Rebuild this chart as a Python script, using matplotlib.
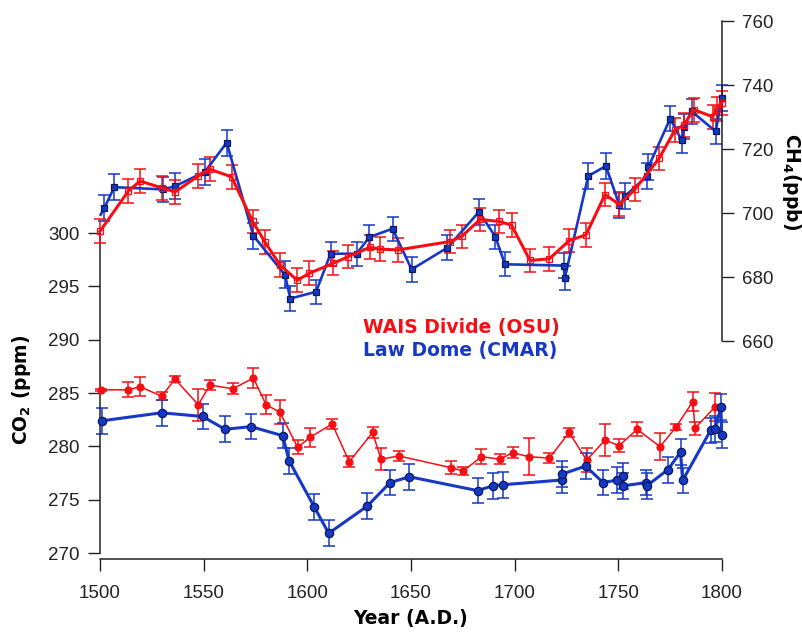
import matplotlib
matplotlib.use("Agg")
import matplotlib.pyplot as plt

plt.rcParams["font.family"] = ["Liberation Sans", "DejaVu Sans"]
plt.rcParams["mathtext.default"] = "bf"

RED = "#f50f14"
BLUE = "#1638c4"
NAVY = "#0a1a5a"

# CH4 (ppb), right axis
ch4_law_years = [1500.3, 1502, 1506.9, 1530.5, 1536.2, 1550.6, 1561.1, 1574, 1589.2, 1591.8,
                 1604.2, 1611.2, 1623.8, 1629.9, 1641.1, 1650.3, 1667.6, 1682.8, 1690.7, 1695.3,
                 1723.6, 1724.2, 1735.5, 1744, 1750.5, 1753.2, 1764, 1764.5, 1775, 1780.5,
                 1781.7, 1785.3, 1797, 1799.8]
ch4_law = [699.5, 701.5, 708.1, 707.4, 708.4, 712.9, 722.0, 692.9, 680.7, 673.3,
           675.4, 687.3, 687.3, 692.5, 695.1, 682.4, 689.2, 700.4, 692.6, 684.0,
           683.6, 679.8, 711.6, 714.7, 702.5, 705.3, 711.6, 714.4, 729.5, 722.8,
           727.0, 731.8, 725.5, 736.0]
ch4_law_err = [0, 4.0, 4.0, 4.0, 4.0, 4.0, 4.1, 4.0, 4.2, 3.8,
               3.8, 3.8, 3.8, 3.8, 3.8, 3.8, 3.8, 4.0, 3.8, 3.8,
               3.8, 3.8, 4.0, 4.0, 4.0, 4.0, 4.0, 4.0, 4.0, 4.0,
               4.0, 4.0, 4.0, 4.0]

ch4_wais_years = [1500, 1513.7, 1519.3, 1529.7, 1536.2, 1547.4, 1553, 1563.5, 1573.6, 1579.6,
                  1586.8, 1595.1, 1601, 1612.5, 1619.8, 1630.2, 1635, 1643.9, 1668.8, 1674.4,
                  1683.3, 1692.6, 1698.5, 1707.4, 1716.7, 1726.3, 1734.4, 1743.6, 1750.5, 1758,
                  1769.7, 1777.3, 1781.5, 1786.5, 1795.5, 1797.4, 1799.8]
ch4_wais = [694.3, 706.9, 710.0, 707.9, 706.6, 711.6, 713.7, 711.3, 697.4, 690.9,
            683.8, 679.0, 681.2, 684.3, 686.4, 689.3, 688.7, 688.5, 691.1, 692.7,
            698.0, 697.4, 696.2, 685.2, 685.7, 691.4, 693.2, 705.8, 702.7, 707.4,
            717.1, 726.0, 727.5, 732.3, 730.1, 732.5, 734.4]
ch4_wais_err = [3.7, 3.7, 3.7, 3.7, 3.7, 3.7, 3.7, 3.7, 3.7, 3.7,
                3.7, 3.7, 3.7, 3.7, 3.7, 3.7, 3.7, 3.7, 3.7, 3.7,
                3.7, 3.7, 3.7, 3.7, 3.7, 3.7, 3.7, 3.7, 3.7, 3.7,
                3.7, 3.7, 3.7, 3.7, 3.7, 3.7, 3.7]

# CO2 (ppm), left axis
co2_wais_years = [1500.5, 1513.7, 1519.3, 1529.7, 1536.2, 1547.4, 1553, 1564, 1574, 1580.1,
                  1586.8, 1595.3, 1601.3, 1612, 1620.2, 1631.5, 1635.5, 1644.2, 1669.3, 1675.2,
                  1684, 1692.9, 1699, 1707, 1716.7, 1726.3, 1734.7, 1743.6, 1750.3, 1759.1,
                  1770.1, 1777.8, 1785.9, 1787, 1796.6]
co2_wais = [285.3, 285.3, 285.6, 284.7, 286.3, 283.9, 285.75, 285.4, 286.4, 283.9,
            283.2, 279.9, 280.85, 282.1, 278.56, 281.3, 278.8, 279.1, 278.0, 277.7,
            279.03, 278.8, 279.4, 279.03, 278.9, 281.3, 278.7, 280.6, 280.06, 281.6,
            279.97, 281.8, 284.2, 281.7, 283.7]
co2_wais_err = [0.1, 0.7, 0.9, 0.4, 0.3, 1.5, 0.45, 0.5, 0.9, 0.9,
                1.1, 0.65, 0.9, 0.5, 0.5, 0.5, 1.0, 0.5, 0.6, 0.4,
                0.7, 0.5, 0.5, 1.75, 0.5, 0.4, 1.1, 1.5, 0.6, 0.65,
                1.25, 0.3, 0.9, 0.6, 1.3]

co2_law_years = [1501.1, 1529.7, 1549.5, 1560.3, 1572.8, 1588.1, 1591.2, 1603.4, 1610.3, 1628.9,
                 1639.9, 1649.2, 1682.1, 1689.4, 1694.2, 1722.9, 1722.9, 1734.2, 1742.7, 1749.5,
                 1752.4, 1752.4, 1763.2, 1763.7, 1773.8, 1780, 1781, 1794.5, 1796.6, 1799.5,
                 1799.8]
co2_law = [282.4, 283.15, 282.8, 281.6, 281.85, 281.0, 278.65, 274.3, 271.85, 274.4,
           276.6, 277.15, 275.85, 276.3, 276.4, 276.85, 277.4, 278.15, 276.6, 276.85,
           277.2, 276.3, 276.6, 276.3, 277.8, 279.45, 276.8, 281.5, 281.6, 283.7,
           281.05]
co2_law_err = [1.2, 1.2, 1.2, 1.2, 1.2, 1.2, 1.2, 1.2, 1.2, 1.2,
               1.2, 1.2, 1.2, 1.2, 1.2, 1.2, 1.2, 1.2, 1.2, 1.2,
               1.2, 1.2, 1.2, 1.2, 1.2, 1.2, 1.2, 1.2, 1.2, 1.2,
               1.2]

year_ticks = [1500, 1550, 1600, 1650, 1700, 1750, 1800]
co2_ticks = [270, 275, 280, 285, 290, 295, 300]
ch4_ticks = [660, 680, 700, 720, 740, 760]


def draw_series(ax, x, y, err, color, lw, marker, ms, mfc, mec, capsize, markevery=None):
	ax.plot(x, y, color=color, lw=lw, marker=marker, ms=ms, mfc=mfc, mec=mec, mew=0.9,
	        markevery=markevery, clip_on=False, zorder=3)
	start = 0 if markevery is None else 1
	ax.errorbar(x[start:], y[start:], yerr=err[start:], fmt="none", ecolor=color, elinewidth=1.1,
	            capsize=capsize, capthick=1.1, clip_on=False, zorder=2)


fig = plt.figure(figsize=(8.03, 6.33), dpi=100)
ax = fig.add_axes([100 / 803, 74 / 633, 622 / 803, 544 / 633])
ax2 = ax.twinx()

draw_series(ax, co2_wais_years, co2_wais, co2_wais_err, RED, 1.1, "o", 5, RED, RED, 4)
draw_series(ax, co2_law_years, co2_law, co2_law_err, BLUE, 2.2, "o", 6, BLUE, NAVY, 4)

draw_series(ax2, ch4_law_years, ch4_law, ch4_law_err, BLUE, 1.9, "s", 4.5, BLUE, NAVY, 4,
            markevery=list(range(1, len(ch4_law_years))))
draw_series(ax2, ch4_wais_years, ch4_wais, ch4_wais_err, RED, 2.2, "s", 5, "none", RED, 4)

ax.set_xlim(1500, 1800)
ax.set_ylim(269.44, 320.44)
ax2.set_ylim(591.9, 761.9)

ax.set_xticks(year_ticks)
ax.set_yticks(co2_ticks)
ax2.set_yticks(ch4_ticks)

for a in (ax, ax2):
	a.tick_params(direction="out", length=8.5, width=1, labelsize=13.5, pad=6, colors="#222222")
	a.spines["top"].set_visible(False)
	for s in a.spines.values():
		s.set_linewidth(1.1)
		s.set_color("#222222")
ax.tick_params(axis="x", pad=10)
ax.spines["right"].set_visible(False)
ax.spines["left"].set_bounds(270, 300)
ax2.spines["left"].set_visible(False)
ax2.spines["bottom"].set_visible(False)
ax2.spines["right"].set_bounds(660, 760)

bold = dict(family="DejaVu Sans", fontweight="bold", fontsize=13.5)
ax.set_xlabel("Year (A.D.)", labelpad=5, **bold)
fig.text(22 / 803, 1 - 390 / 633, "CO$_2$ (ppm)", rotation=90, ha="center", va="center", **bold)
fig.text(792 / 803, 1 - 182 / 633, "CH$_4$(ppb)", rotation=270, ha="center", va="center", **bold)

fig.text(363 / 803, 1 - 328 / 633, "WAIS Divide (OSU)", color=RED, ha="left", va="center", **bold)
fig.text(363 / 803, 1 - 351 / 633, "Law Dome (CMAR)", color=BLUE, ha="left", va="center", **bold)

plt.savefig("out.png", dpi=100)
plt.close()
